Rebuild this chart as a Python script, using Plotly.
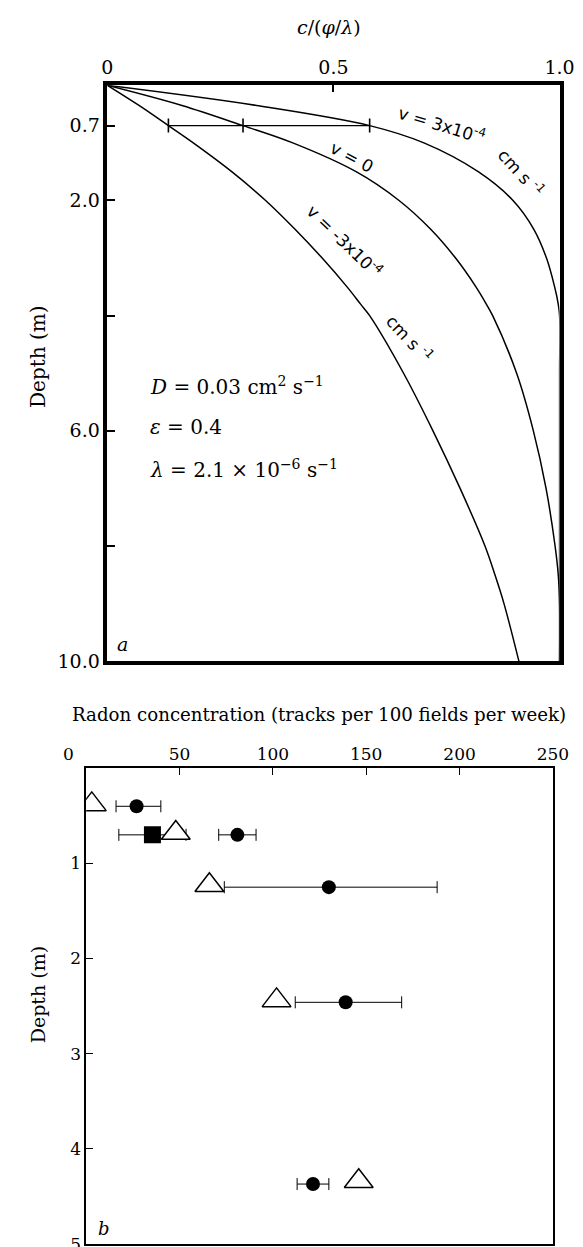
import plotly.graph_objects as go

# ---------------- Panel a: model curves ----------------
depth_a = [0, 0.35, 0.7, 1.0, 1.5, 2.0, 2.5, 3.0, 3.5, 3.8, 4.0, 5.0, 6.0, 7.0, 8.0, 8.5, 9.0, 10.0]
c_vpos = [0, 0.33, 0.58, 0.70, 0.82, 0.897, 0.943, 0.971, 0.989, 0.997, 1.0, 1.0, 1.0, 1.0, 1.0, 1.0, 1.0, 1.0]
c_vzero = [0, 0.165, 0.30, 0.41, 0.55, 0.645, 0.715, 0.77, 0.815, 0.838, 0.852, 0.905, 0.942, 0.97, 0.99, 0.997, 1.0, 1.0]
c_vneg = [0, 0.07, 0.135, 0.19, 0.275, 0.35, 0.415, 0.475, 0.53, 0.56, 0.58, 0.655, 0.72, 0.78, 0.835, 0.857, 0.877, 0.91]

mark_depth = 0.7
mark_c = [0.135, 0.30, 0.58]

a_xticks = [0, 0.5, 1.0]
a_xlabels = ["0", "0.5", "1.0"]
a_yticks = [0.7, 2.0, 6.0, 10.0]
a_ylabels = ["0.7", "2.0", "6.0", "10.0"]
a_yminor = [4.0, 8.0]

# ---------------- Panel b: measurements ----------------
circ_x = [27, 81, 130, 139, 121.5]
circ_d = [0.4, 0.7, 1.25, 2.46, 4.37]
circ_err_plus = [13, 10, 58, 30, 8.5]
circ_err_minus = [11, 10, 56, 27, 8.5]

sq_x = [35.5]
sq_d = [0.7]
sq_err = [18]

tri_x = [3, 48, 66, 102, 146]
tri_d = [0.38, 0.68, 1.23, 2.44, 4.34]

b_xticks = [50, 100, 150, 200, 250]
b_yticks = [1, 2, 3, 4, 5]

SERIF = "DejaVu Serif"
HAND = "DejaVu Sans"

fig = go.Figure()

line_style = dict(color="black", width=1.5, shape="spline", smoothing=1.0)
for cvals in (c_vpos, c_vzero, c_vneg):
    fig.add_trace(go.Scatter(x=cvals, y=depth_a, mode="lines", line=line_style,
                             xaxis="x", yaxis="y", showlegend=False, hoverinfo="skip"))

fig.add_trace(go.Scatter(x=mark_c, y=[mark_depth] * len(mark_c), mode="lines+markers",
                         line=dict(color="black", width=1.2),
                         marker=dict(symbol="line-ns-open", size=10, line=dict(color="black", width=1.6)),
                         xaxis="x", yaxis="y", showlegend=False, hoverinfo="skip"))

# panel b traces
fig.add_trace(go.Scatter(x=sq_x, y=sq_d, mode="markers",
                         marker=dict(symbol="square", size=17, color="black"),
                         error_x=dict(type="data", array=sq_err, color="black", thickness=1, width=6),
                         xaxis="x2", yaxis="y2", showlegend=False))
fig.add_trace(go.Scatter(x=circ_x, y=circ_d, mode="markers",
                         marker=dict(symbol="circle", size=14, color="black"),
                         error_x=dict(type="data", symmetric=False, array=circ_err_plus,
                                      arrayminus=circ_err_minus, color="black", thickness=1, width=6),
                         xaxis="x2", yaxis="y2", showlegend=False))
fig.add_trace(go.Scatter(x=tri_x, y=tri_d, mode="markers",
                         marker=dict(symbol="triangle-up", size=25, color="white",
                                     line=dict(color="black", width=1.5)),
                         xaxis="x2", yaxis="y2", showlegend=False))

W, H = 583, 1247
def px(x):
    return x / W
def py(y):
    return 1 - y / H

fig.update_layout(
    width=W, height=H,
    margin=dict(l=0, r=0, t=0, b=0),
    paper_bgcolor="white", plot_bgcolor="white",
    xaxis=dict(domain=[px(97), px(567)], anchor="y", side="top", range=[0, 1],
               tickvals=a_xticks, ticktext=a_xlabels, ticks="inside", ticklen=7, tickwidth=1.5,
               tickcolor="black", showline=True, linewidth=3.5, linecolor="black", mirror=True,
               showgrid=False, zeroline=False, tickfont=dict(family=SERIF, size=19, color="black")),
    yaxis=dict(domain=[py(659), py(78)], anchor="x", range=[10, 0],
               tickvals=a_yticks, ticktext=a_ylabels, ticks="inside", ticklen=8, tickwidth=1.5,
               tickcolor="black", showline=True, linewidth=3.5, linecolor="black", mirror=True,
               minor=dict(tickvals=a_yminor, ticks="inside", ticklen=8, tickwidth=1.5, tickcolor="black",
                          showgrid=False),
               showgrid=False, zeroline=False, tickfont=dict(family=SERIF, size=19, color="black")),
    xaxis2=dict(domain=[px(75), px(560)], anchor="y2", side="top", range=[0, 250],
                tickvals=b_xticks, ticks="inside", ticklen=7, tickwidth=1.2,
                tickcolor="black", showline=True, linewidth=1.5, linecolor="black", mirror=True,
                showgrid=False, zeroline=False, tickfont=dict(family=SERIF, size=17, color="black")),
    yaxis2=dict(domain=[py(1247), py(767)], anchor="x2", range=[5, 0],
                tickvals=b_yticks, ticks="inside", ticklen=7, tickwidth=1.2,
                tickcolor="black", showline=True, linewidth=1.5, linecolor="black", mirror=True,
                showgrid=False, zeroline=False, tickfont=dict(family=SERIF, size=17, color="black")),
)

ann = []
# axis titles
ann.append(dict(text="<i>c</i>/(<i>φ</i>/<i>λ</i>)", xref="paper", yref="paper", x=px(327), y=py(19),
                xanchor="center", yanchor="middle",
                showarrow=False, font=dict(family=SERIF, size=19, color="black")))
ann.append(dict(text="Radon concentration (tracks per 100 fields per week)", xref="paper", yref="paper",
                x=px(317), y=py(713), xanchor="center", yanchor="middle",
                showarrow=False, font=dict(family=SERIF, size=18.2, color="black")))
ann.append(dict(text="Depth (m)", xref="paper", yref="paper", x=px(25), y=py(352), textangle=-90,
                xanchor="center", yanchor="middle",
                showarrow=False, font=dict(family=SERIF, size=20, color="black")))
ann.append(dict(text="Depth (m)", xref="paper", yref="paper", x=px(25), y=py(996), textangle=-90,
                xanchor="center", yanchor="middle",
                showarrow=False, font=dict(family=SERIF, size=19, color="black")))
ann.append(dict(text="0", xref="paper", yref="paper", x=px(57), y=py(753), showarrow=False,
                xanchor="center", yanchor="middle",
                font=dict(family=SERIF, size=17, color="black")))

# curve labels (panel a)
hand = dict(family=HAND, size=17, color="black")
ann.append(dict(text="v = 3x10<sup>-4</sup>", x=0.738, y=0.68, xref="x", yref="y", textangle=17,
                showarrow=False, font=hand))
ann.append(dict(text="cm s <sup>-1</sup>", x=0.915, y=1.50, xref="x", yref="y", textangle=48,
                showarrow=False, font=hand))
ann.append(dict(text="v = 0", x=0.54, y=1.24, xref="x", yref="y", textangle=28,
                showarrow=False, font=hand))
ann.append(dict(text="v = -3x10<sup>-4</sup>", x=0.526, y=2.70, xref="x", yref="y", textangle=44,
                showarrow=False, font=hand))
ann.append(dict(text="cm s <sup>-1</sup>", x=0.668, y=4.39, xref="x", yref="y", textangle=47,
                showarrow=False, font=hand))

# parameter text
param = dict(family=SERIF, size=20, color="black")
ann.append(dict(text="<i>D</i> = 0.03 cm<sup>2</sup> s<sup>−1</sup>", x=0.09, y=5.23, xref="x", yref="y",
                xanchor="left", showarrow=False, font=param))
ann.append(dict(text="<i>ε</i> = 0.4", x=0.09, y=5.94, xref="x", yref="y",
                xanchor="left", showarrow=False, font=param))
ann.append(dict(text="<i>λ</i> = 2.1 × 10<sup>−6</sup> s<sup>−1</sup>", x=0.09, y=6.66, xref="x", yref="y",
                xanchor="left", showarrow=False, font=param))
ann.append(dict(text="<i>a</i>", x=0.034, y=9.71, xref="x", yref="y", showarrow=False,
                font=dict(family=SERIF, size=19, color="black")))
ann.append(dict(text="<i>b</i>", x=9.3, y=4.84, xref="x2", yref="y2", showarrow=False,
                font=dict(family=SERIF, size=18, color="black")))

fig.update_layout(annotations=ann)
fig.write_html("out.html")
